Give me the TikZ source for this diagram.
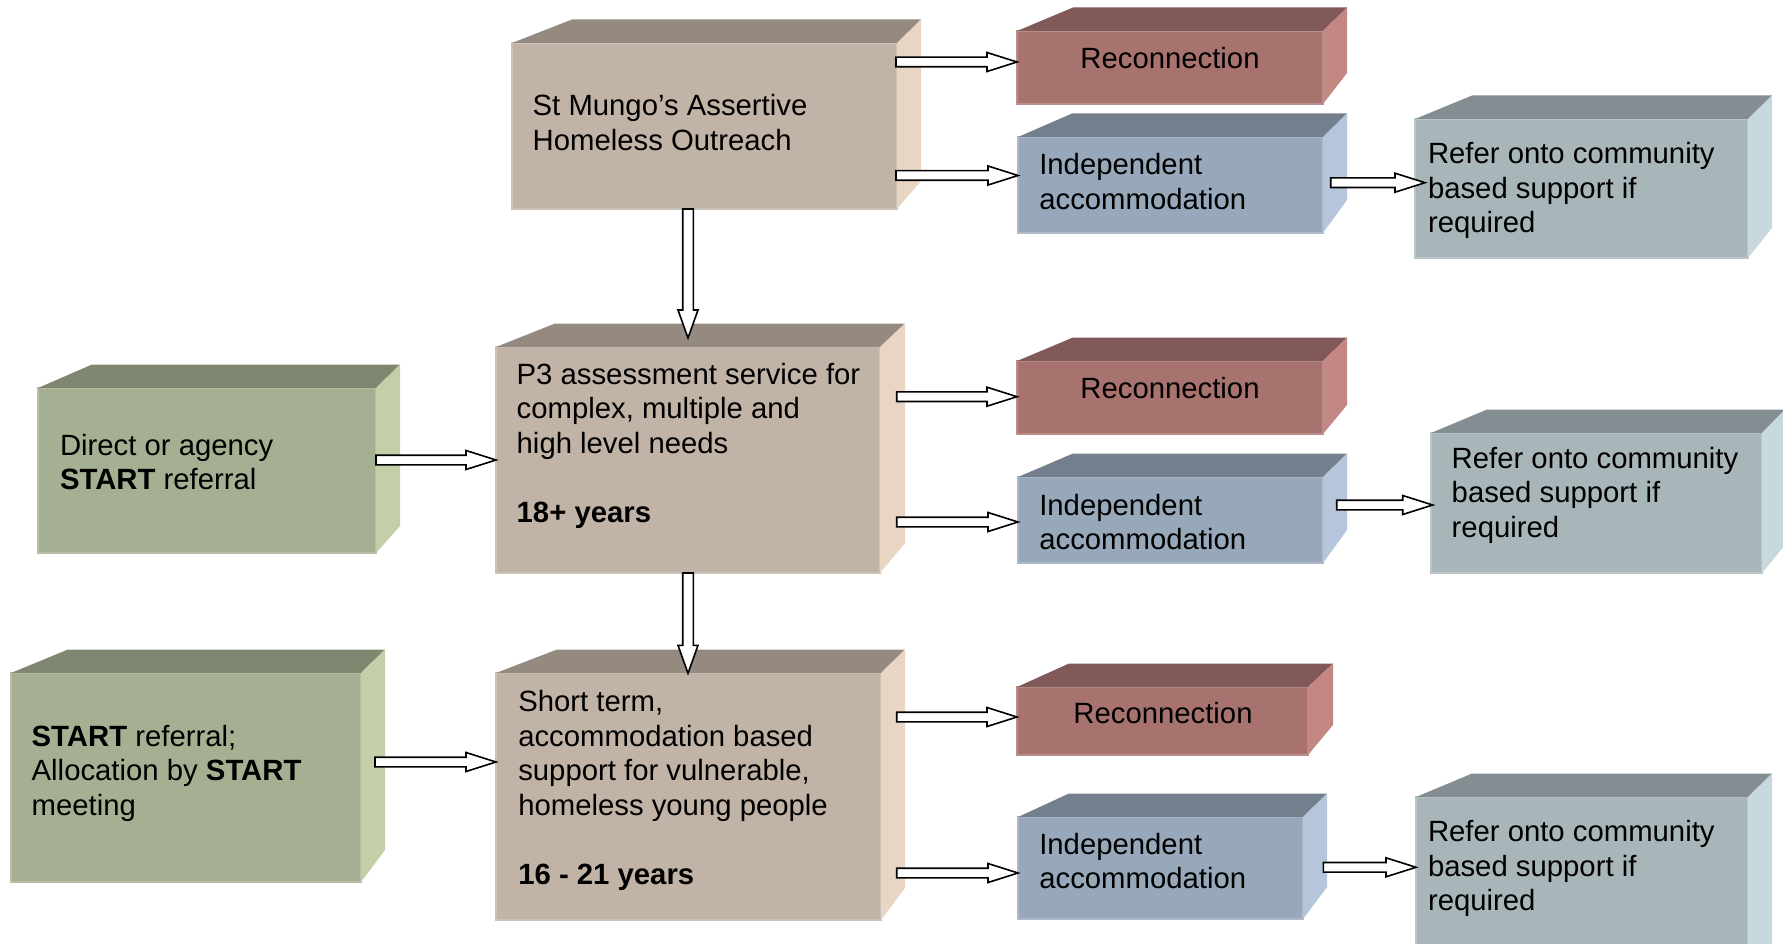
\documentclass[tikz,border=0pt]{standalone}
\usepackage{fontspec}
\setmainfont{Liberation Sans}
\usetikzlibrary{calc}
\definecolor{tanF}{HTML}{C1B3A5}\definecolor{tanT}{HTML}{958A80}\definecolor{tanR}{HTML}{E8D5C3}
\definecolor{greenF}{HTML}{A5AF91}\definecolor{greenT}{HTML}{7F8770}\definecolor{greenR}{HTML}{C4CFAA}
\definecolor{redF}{HTML}{A8736F}\definecolor{redT}{HTML}{805958}\definecolor{redR}{HTML}{C58783}
\definecolor{blueF}{HTML}{98A8BB}\definecolor{blueT}{HTML}{747F8D}\definecolor{blueR}{HTML}{B4C5DC}
\definecolor{grayF}{HTML}{A8B6BA}\definecolor{grayT}{HTML}{848E92}\definecolor{grayR}{HTML}{C7D8DF}
\tikzset{
  txt/.style={inner sep=0pt, outer sep=0pt, font=\fontsize{29.3}{34.5}\selectfont, text=black},
  blockarrow/.style={draw=black, fill=white, line width=1.6pt, line join=miter},
}
% #1 name, #2 colour prefix, #3 x1, #4 y1, #5 x2, #6 y2 (front face), #7 back-left x, #8 back-right x, #9 back-bottom y
\newcommand\solidbox[9]{%
  \node[inner sep=0pt, outer sep=0pt, anchor=north west, fill=#2F, draw=#2F!80!white, line width=1.2pt,
        minimum width={#5pt-#3pt}, minimum height={#6pt-#4pt}] (#1) at (#3,#4) {};
  \fill[#2T] (#1.north west) -- ({#7},{#4-23.5}) -- ({#8},{#4-23.5}) -- (#1.north east) -- cycle;
  \fill[#2R] (#1.north east) -- ({#8},{#4-23.5}) -- ({#8},{#9}) -- (#1.south east) -- cycle;
}
\newcommand\harrow[2]{%
  \draw[blockarrow] ($(#1)+(0,-4.8)$) -- ($(#2)+(-30,-4.8)$) -- ($(#2)+(-30,-9.5)$) -- (#2)
    -- ($(#2)+(-30,9.5)$) -- ($(#2)+(-30,4.8)$) -- ($(#1)+(0,4.8)$) -- cycle;}
\newcommand\varrow[2]{%
  \draw[blockarrow] ($(#1)+(-5.3,0)$) -- ($(#2)+(-5.3,-28)$) -- ($(#2)+(-10,-28)$) -- (#2)
    -- ($(#2)+(10,-28)$) -- ($(#2)+(5.3,-28)$) -- ($(#1)+(5.3,0)$) -- cycle;}
\begin{document}
\begin{tikzpicture}[x=1pt,y=-1pt]
\useasboundingbox (0,0) rectangle (1783,944);
% boxes
\solidbox{mungo}{tan}{512}{43}{897}{209}{572}{921}{181}
\solidbox{green1}{green}{38}{388}{376}{553}{92}{400}{526}
\solidbox{green2}{green}{11}{673}{361}{882}{68}{385}{850}
\solidbox{p3}{tan}{496}{347}{880}{573}{555}{905}{543}
\solidbox{short}{tan}{496}{673}{881}{920}{557}{905}{888}
\solidbox{rec1}{red}{1017}{31}{1323}{104}{1073}{1347}{73}
\solidbox{ind1}{blue}{1018}{137}{1323}{233}{1072}{1347}{200}
\solidbox{rec2}{red}{1017}{361}{1323}{434}{1073}{1347}{405}
\solidbox{ind2}{blue}{1018}{477}{1323}{563}{1073}{1347}{530}
\solidbox{rec3}{red}{1017}{687}{1308}{755}{1069}{1333}{725}
\solidbox{ind3}{blue}{1018}{817}{1303}{919}{1069}{1327}{887}
\solidbox{ref1}{gray}{1415}{119}{1748}{258}{1472}{1772}{228}
\solidbox{ref2}{gray}{1431}{433}{1762}{573}{1487}{1785}{545}
\solidbox{ref3}{gray}{1416}{797}{1748}{975}{1472}{1772}{945}
% texts
\node[txt, anchor=base west] (mungo-t) at (532.7,116) {\parbox[t]{360pt}{St Mungo’s Assertive\\Homeless Outreach}};
\node[txt, anchor=base west] (green1-t) at (60,455) {\parbox[t]{320pt}{Direct or agency\\\textbf{START} referral}};
\node[txt, anchor=base west] (green2-t) at (31.7,746) {\parbox[t]{330pt}{\textbf{START} referral;\\Allocation by \textbf{START}\\meeting}};
\node[txt, anchor=base west] (p3-t) at (516.7,384) {\parbox[t]{370pt}{P3 assessment service for\\complex, multiple and\\high level needs\\[34.5pt]\textbf{18+ years}}};
\node[txt, anchor=base west] (short-t) at (518.3,711.7) {\parbox[t]{370pt}{Short term,\\accommodation based\\support for vulnerable,\\homeless young people\\[34.5pt]\textbf{16 - 21 years}}};
\node[txt, anchor=base] (rec1-t) at (1170,69) {Reconnection};
\node[txt, anchor=base] (rec2-t) at (1170,398.3) {Reconnection};
\node[txt, anchor=base] (rec3-t) at (1163,723.3) {Reconnection};
\node[txt, anchor=base west] (ind1-t) at (1039.3,175) {\parbox[t]{280pt}{Independent\\accommodation}};
\node[txt, anchor=base west] (ind2-t) at (1039.3,515) {\parbox[t]{280pt}{Independent\\accommodation}};
\node[txt, anchor=base west] (ind3-t) at (1039.3,854.3) {\parbox[t]{280pt}{Independent\\accommodation}};
\node[txt, anchor=base west] (ref1-t) at (1428,164) {\parbox[t]{320pt}{Refer onto community\\based support if\\required}};
\node[txt, anchor=base west] (ref2-t) at (1451.7,468.3) {\parbox[t]{320pt}{Refer onto community\\based support if\\required}};
\node[txt, anchor=base west] (ref3-t) at (1428,841.5) {\parbox[t]{320pt}{Refer onto community\\based support if\\required}};
% arrow end points
\coordinate (m-s1) at (896,62);      \coordinate (m-e1) at (rec1.west |- m-s1);
\coordinate (m-s2) at (896,175.5);   \coordinate (m-e2) at (ind1.west |- m-s2);
\coordinate (p-s1) at (896.7,396.7); \coordinate (p-e1) at (rec2.west |- p-s1);
\coordinate (p-s2) at (896.7,522);   \coordinate (p-e2) at (ind2.west |- p-s2);
\coordinate (s-s1) at (896.7,717);   \coordinate (s-e1) at (rec3.west |- s-s1);
\coordinate (s-s2) at (896.7,873);   \coordinate (s-e2) at (ind3.west |- s-s2);
\coordinate (i-s1) at (1330.7,182.7); \coordinate (i-e1) at (1425,182.7);
\coordinate (i-s2) at (1336.7,505);   \coordinate (i-e2) at (1432.7,505);
\coordinate (i-s3) at (1323.3,867.3); \coordinate (i-e3) at (1416,867.3);
\coordinate (g-s1) at (376,460);     \coordinate (g-e1) at (p3.west |- g-s1);
\coordinate (g-s2) at (375,762);     \coordinate (g-e2) at (short.west |- g-s2);
\coordinate (v-s1) at (688,209);     \coordinate (v-e1) at (688,338);
\coordinate (v-s2) at (688,573);     \coordinate (v-e2) at (688,673.3);
% arrows
\harrow{m-s1}{m-e1}
\harrow{m-s2}{m-e2}
\harrow{p-s1}{p-e1}
\harrow{p-s2}{p-e2}
\harrow{s-s1}{s-e1}
\harrow{s-s2}{s-e2}
\harrow{i-s1}{i-e1}
\harrow{i-s2}{i-e2}
\harrow{i-s3}{i-e3}
\harrow{g-s1}{g-e1}
\harrow{g-s2}{g-e2}
\varrow{v-s1}{v-e1}
\varrow{v-s2}{v-e2}
\end{tikzpicture}
\end{document}
